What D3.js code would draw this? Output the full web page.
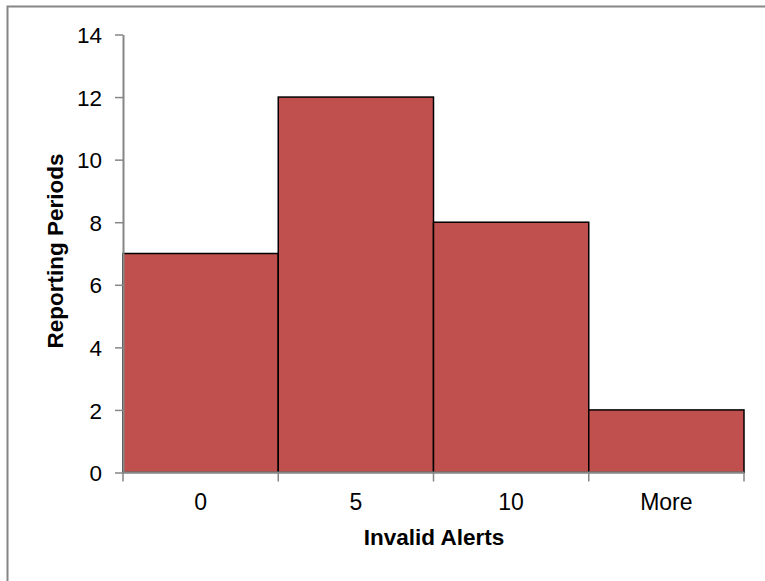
<!DOCTYPE html>
<html>
<head>
<meta charset="utf-8">
<script src="https://cdn.jsdelivr.net/npm/d3@7"></script>
<style>
  body { margin: 0; background: #fff; }
  svg text { font-family: "Liberation Sans", Arial, sans-serif; fill: #000; }
</style>
</head>
<body>
<div id="drawArea"></div>
<script>
// histogram bins and counts
var bins = ["0", "5", "10", "More"];
var counts = [7, 12, 8, 2];
var yTicks = [0, 2, 4, 6, 8, 10, 12, 14];

var W = 765, H = 581;
var margin = {top: 34.5, right: 21, bottom: 108.5, left: 123};
var width = W - margin.left - margin.right,
    height = H - margin.top - margin.bottom;

var svg = d3.select("#drawArea")
  .append("svg")
  .attr("width", W)
  .attr("height", H);

// outer chart frame (only top/left visible in the picture)
svg.append("rect")
  .attr("x", 7.5).attr("y", 6.5)
  .attr("width", 800).attr("height", 600)
  .attr("fill", "none")
  .attr("stroke", "#868686")
  .attr("stroke-width", 2);

var g = svg.append("g")
  .attr("transform", "translate(" + margin.left + "," + margin.top + ")");

var x = d3.scaleBand()
  .domain(bins)
  .range([0, width])
  .padding(0);

var y = d3.scaleLinear()
  .domain([0, 14])
  .range([height, 0]);

// bars
g.selectAll("rect.bar")
  .data(counts)
  .enter()
  .append("rect")
    .attr("class", "bar")
    .attr("x", function(d, i){ return x(bins[i]); })
    .attr("y", function(d){ return y(d); })
    .attr("width", x.bandwidth())
    .attr("height", function(d){ return y(0) - y(d); })
    .attr("fill", "#C0504D")
    .attr("stroke", "#000")
    .attr("stroke-width", 1.5);

// y axis
var yAxis = g.append("g")
  .call(d3.axisLeft(y).tickValues(yTicks).tickSize(8).tickSizeOuter(0).tickPadding(13));
yAxis.select(".domain").attr("stroke", "#868686").attr("stroke-width", 2);
yAxis.selectAll(".tick line").attr("stroke", "#868686").attr("stroke-width", 1.5);
yAxis.selectAll("text").style("font-size", "22.5px").attr("dy", "0.36em");

// x axis: ticks at bin boundaries, labels centred in bins
var xAxis = g.append("g")
  .attr("transform", "translate(0," + height + ")");
xAxis.append("line")
  .attr("x1", 0).attr("x2", width)
  .attr("stroke", "#868686").attr("stroke-width", 2);
var edges = bins.map(function(b){ return x(b); }).concat([x(bins[bins.length - 1]) + x.bandwidth()]);
xAxis.selectAll("line.tk")
  .data(edges)
  .enter()
  .append("line")
    .attr("class", "tk")
    .attr("x1", function(d){ return d; })
    .attr("x2", function(d){ return d; })
    .attr("y1", 0).attr("y2", 9)
    .attr("stroke", "#868686").attr("stroke-width", 1.5);
xAxis.selectAll("text")
  .data(bins)
  .enter()
  .append("text")
    .attr("x", function(d){ return x(d) + x.bandwidth() / 2; })
    .attr("y", 37.5)
    .attr("text-anchor", "middle")
    .style("font-size", "23px")
    .text(function(d){ return d; });

// axis titles
svg.append("text")
  .attr("x", margin.left + width / 2 + 0.5)
  .attr("y", 545)
  .attr("text-anchor", "middle")
  .style("font-size", "22.5px")
  .style("font-weight", "bold")
  .text("Invalid Alerts");

svg.append("text")
  .attr("transform", "translate(62.5," + 251 + ") rotate(-90)")
  .attr("text-anchor", "middle")
  .style("font-size", "22.5px")
  .style("font-weight", "bold")
  .text("Reporting Periods");
</script>
</body>
</html>
